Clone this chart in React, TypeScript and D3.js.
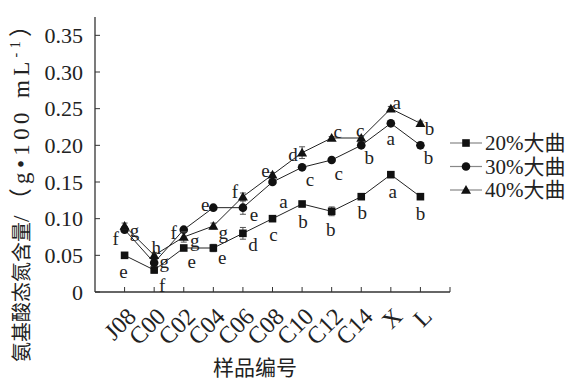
import React from "react";
import * as d3 from "d3";

const categories = ["J08", "C00", "C02", "C04", "C06", "C08", "C10", "C12", "C14", "X", "L"];
const s20 = [0.05, 0.03, 0.06, 0.06, 0.08, 0.10, 0.12, 0.11, 0.13, 0.16, 0.13];
const s30 = [0.085, 0.04, 0.085, 0.115, 0.115, 0.15, 0.17, 0.18, 0.20, 0.23, 0.20];
const s40 = [0.09, 0.05, 0.075, 0.09, 0.13, 0.16, 0.19, 0.21, 0.21, 0.25, 0.23];
const e20 = [0.002, 0.004, 0.003, 0.005, 0.008, 0.002, 0.003, 0.006, 0.003, 0.002, 0.002];
const e30 = [0.004, 0.004, 0.003, 0.002, 0.009, 0.003, 0.003, 0.002, 0.003, 0.002, 0.004];
const e40 = [0.004, 0.004, 0.007, 0.004, 0.005, 0.003, 0.008, 0.002, 0.003, 0.003, 0.003];
const l20 = ["e", "f", "e", "e", "d", "c", "b", "b", "b", "a", "b"];
const l30 = ["f", "g", "f", "e", "e", "a", "c", "c", "b", "a", "b"];
const l40 = ["g", "h", "g", "g", "f", "e", "d", "c", "c", "a", "b"];
const seriesNames = ["20%大曲", "30%大曲", "40%大曲"];
const yTicks = [0, 0.05, 0.1, 0.15, 0.2, 0.25, 0.3, 0.35];

// label placement offsets (dx, dy) relative to point
const p20: [number, number][] = [[-1, 16], [8, 15], [8, 13], [9, 9], [10, 11], [1, 16], [1, 17], [-1, 18], [1, 16], [2, 17], [0, 17]];
const p30: [number, number][] = [[-9, 9], [10, -1], [-10, 3], [-8, -3], [11, 7], [11, 19], [8, 12], [7, 13], [8, 12], [0, 15], [8, 12]];
const p40: [number, number][] = [[10, 4], [2, -8], [11, 3], [10, 6], [-8, -5], [-7, -4], [-9, 2], [6, -7], [-1, -8], [6, -6], [9, 5]];

const FONT = "'Liberation Serif', 'Times New Roman', serif";
const CJK = "'Liberation Serif', 'Noto Sans CJK SC', serif";

function Marker({ kind, x, y }: { kind: number; x: number; y: number }) {
  if (kind === 0) return <rect x={x - 3.8} y={y - 3.8} width={7.6} height={7.6} fill="#111" />;
  if (kind === 1) return <circle cx={x} cy={y} r={4.3} fill="#111" />;
  const s = 5;
  return <path d={`M${x},${y - s}L${x + s},${y + s * 0.75}L${x - s},${y + s * 0.75}Z`} fill="#111" />;
}

export default function App() {
  const x = d3.scalePoint<string>().domain(categories).range([95, 450]).padding(1);
  const y = d3.scaleLinear().domain([0, 0.375]).range([292, 17]);
  const series = [s20, s30, s40];
  const errs = [e20, e30, e40];
  const letters = [l20, l30, l40];
  const places = [p20, p30, p40];
  const line = d3
    .line<number>()
    .x((_, i) => x(categories[i]) as number)
    .y((v) => y(v));

  return (
    <div style={{ position: "absolute", left: 0, top: 0 }}>
      <svg width={571} height={382} style={{ display: "block", background: "#fff" }}>
        {/* axes */}
        <line x1={95} y1={17} x2={95} y2={292} stroke="#333" strokeWidth={1.3} />
        <line x1={95} y1={292} x2={450} y2={292} stroke="#333" strokeWidth={1.3} />
        {yTicks.map((t) => (
          <g key={t}>
            <line x1={95} x2={100} y1={y(t)} y2={y(t)} stroke="#333" strokeWidth={1} />
            <text x={83} y={y(t)} dy="0.35em" textAnchor="end" fontFamily={FONT} fontSize={22} fill="#222">
              {t === 0 ? "0" : t.toFixed(2)}
            </text>
          </g>
        ))}
        {[...categories.map((c) => x(c) as number), 450].map((px, i) => (
          <line key={i} x1={px} x2={px} y1={292} y2={287} stroke="#333" strokeWidth={1} />
        ))}
        {categories.map((c) => (
          <text
            key={c}
            transform={`translate(${(x(c) as number) + 1},${306}) rotate(-45)`}
            textAnchor="end"
            dy="0.7em"
            fontFamily={FONT}
            fontSize={24}
            fill="#222"
          >
            {c}
          </text>
        ))}
        <text x={255} y={375} textAnchor="middle" fontFamily={CJK} fontSize={21} fill="#222">
          样品编号
        </text>
        <g transform="translate(29,362) rotate(-90)">
          <text x={0} y={0} fontFamily={CJK} fontSize={20} fill="#222">
            氨基酸态氮含量
          </text>
          <text
            x={140}
            y={0}
            fontFamily={CJK}
            fontSize={23}
            fill="#222"
            textLength={208}
            lengthAdjust="spacing"
          >
            /（g•100 mL
            <tspan fontSize={14} dy={-9}>-1</tspan>
            <tspan dy={9}>）</tspan>
          </text>
        </g>

        {/* series */}
        {series.map((s, k) => (
          <g key={k}>
            <path d={line(s) || ""} fill="none" stroke="#222" strokeWidth={1} />
            {s.map((v, i) => {
              const px = x(categories[i]) as number;
              const e = errs[k][i];
              return (
                <g key={i}>
                  <line x1={px} x2={px} y1={y(v - e)} y2={y(v + e)} stroke="#555" strokeWidth={1} />
                  <line x1={px - 3} x2={px + 3} y1={y(v - e)} y2={y(v - e)} stroke="#555" strokeWidth={1} />
                  <line x1={px - 3} x2={px + 3} y1={y(v + e)} y2={y(v + e)} stroke="#555" strokeWidth={1} />
                  <Marker kind={k} x={px} y={y(v)} />
                  <text
                    x={px + places[k][i][0]}
                    y={y(v) + places[k][i][1]}
                    dy="0.35em"
                    textAnchor="middle"
                    fontFamily={FONT}
                    fontSize={19}
                    fill="#222"
                  >
                    {letters[k][i]}
                  </text>
                </g>
              );
            })}
          </g>
        ))}

        {/* legend */}
        {seriesNames.map((n, k) => {
          const ly = 143 + k * 23.5;
          return (
            <g key={n}>
              <line x1={450} x2={482} y1={ly} y2={ly} stroke="#888" strokeWidth={1.2} />
              <Marker kind={k} x={466} y={ly} />
              <text x={485} y={ly} dy="0.35em" fontFamily={CJK} fontSize={21} fill="#222">
                {n}
              </text>
            </g>
          );
        })}
      </svg>
    </div>
  );
}
